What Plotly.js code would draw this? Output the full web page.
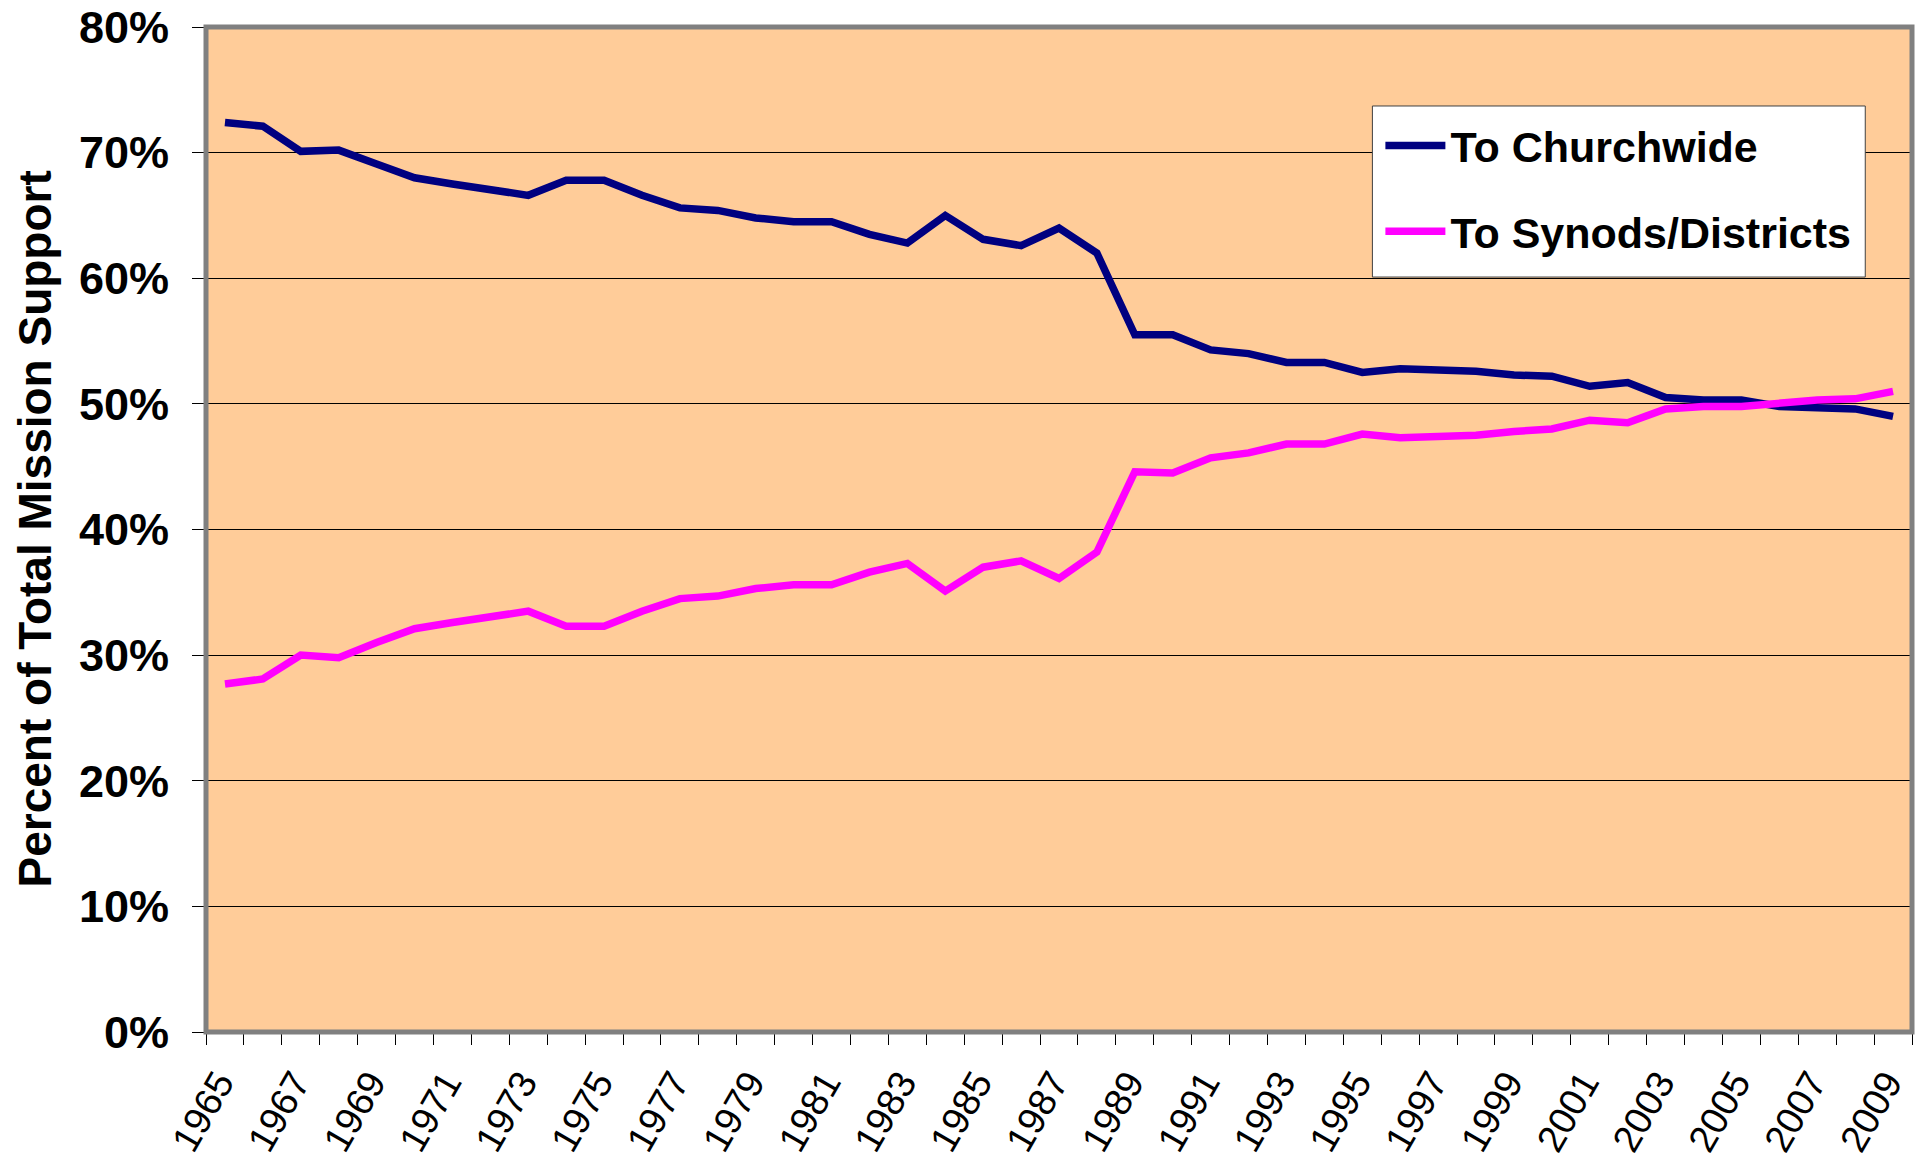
<!DOCTYPE html>
<html>
<head>
<meta charset="utf-8">
<script src="https://cdn.plot.ly/plotly-3.0.1.min.js"></script>
<style>
  html, body { margin: 0; padding: 0; background: #ffffff; }
  #chart { width: 1919px; height: 1167px; }
</style>
</head>
<body>
<div id="chart"></div>
<script>
// Years (categories)
var years = [1965, 1966, 1967, 1968, 1969, 1970, 1971, 1972, 1973, 1974,
             1975, 1976, 1977, 1978, 1979, 1980, 1981, 1982, 1983, 1984,
             1985, 1986, 1987, 1988, 1989, 1990, 1991, 1992, 1993, 1994,
             1995, 1996, 1997, 1998, 1999, 2000, 2001, 2002, 2003, 2004,
             2005, 2006, 2007, 2008, 2009];

// Percent of total mission support going to churchwide
var toChurchwide = [72.4, 72.1, 70.1, 70.2, 69.1, 68.0, 67.5, 67.0, 66.6, 67.8,
                    67.8, 66.6, 65.6, 65.4, 64.8, 64.5, 64.5, 63.5, 62.8, 65.0,
                    63.1, 62.6, 64.0, 62.0, 55.5, 55.5, 54.3, 54.0, 53.3, 53.3,
                    52.5, 52.8, 52.7, 52.6, 52.3, 52.2, 51.4, 51.7, 50.5, 50.3,
                    50.3, 49.8, 49.7, 49.6, 49.0];

// Percent of total mission support going to synods/districts
var toSynods = [27.7, 28.1, 30.0, 29.8, 31.0, 32.1, 32.6, 33.1, 33.5, 32.3,
                32.3, 33.5, 34.5, 34.7, 35.3, 35.6, 35.6, 36.6, 37.3, 35.1,
                37.0, 37.5, 36.1, 38.2, 44.6, 44.5, 45.7, 46.1, 46.8, 46.8,
                47.6, 47.3, 47.4, 47.5, 47.8, 48.0, 48.7, 48.5, 49.6, 49.8,
                49.8, 50.1, 50.3, 50.4, 51.0];

// Tick labels shown on the x axis (every other year)
var xTickYears = [1965, 1967, 1969, 1971, 1973, 1975, 1977, 1979, 1981, 1983,
                  1985, 1987, 1989, 1991, 1993, 1995, 1997, 1999, 2001, 2003,
                  2005, 2007, 2009];
var xTickLabels = ['1965', '1967', '1969', '1971', '1973', '1975', '1977', '1979',
                   '1981', '1983', '1985', '1987', '1989', '1991', '1993', '1995',
                   '1997', '1999', '2001', '2003', '2005', '2007', '2009'];

var seriesNames = ['To Churchwide', 'To Synods/Districts'];
var yTitle = 'Percent of Total Mission Support';

var FONT = 'Liberation Sans, Arial, Helvetica, sans-serif';

var traces = [
  {
    x: years, y: toChurchwide, name: seriesNames[0], type: 'scatter', mode: 'lines',
    line: { color: '#000080', width: 7.5 }, legendgroup: 'a', hoverinfo: 'x+y'
  },
  {
    x: years, y: toSynods, name: seriesNames[1], type: 'scatter', mode: 'lines',
    line: { color: '#FF00FF', width: 7.5 }, legendgroup: 'b', hoverinfo: 'x+y'
  }
];

var layout = {
  width: 1919,
  height: 1167,
  margin: { l: 206, r: 7, t: 27, b: 135, pad: 0 },
  paper_bgcolor: '#ffffff',
  plot_bgcolor: '#FFCC99',
  font: { family: FONT, color: '#000000' },
  showlegend: true,
  legend: {
    x: 0.6837, y: 0.9164, xanchor: 'left', yanchor: 'top',
    bgcolor: 'rgba(0,0,0,0)', borderwidth: 0,
    font: { family: FONT, size: 43, weight: 'bold', color: '#000000' },
    tracegroupgap: 27,
    traceorder: 'grouped',
    itemwidth: 60,
    indentation: 8
  },
  xaxis: {
    type: 'linear',
    range: [1964.5, 2009.5],
    tickmode: 'array',
    tickvals: xTickYears,
    ticktext: xTickLabels,
    ticks: '',
    tickangle: -60,
    tickfont: { family: FONT, size: 38, color: '#000000' },
    ticklabelstandoff: 20,
    ticklabelshift: -6,
    showgrid: false,
    zeroline: false,
    showline: false,
    fixedrange: true,
    minor: { ticks: 'outside', tick0: 1964.5, dtick: 1, ticklen: 12, tickwidth: 1, tickcolor: '#000000', showgrid: false }
  },
  yaxis: {
    range: [0, 80],
    tickmode: 'linear',
    tick0: 0,
    dtick: 10,
    ticksuffix: '%',
    ticks: 'outside',
    ticklen: 13,
    tickwidth: 1,
    tickcolor: '#000000',
    ticklabelstandoff: 14,
    tickfont: { family: FONT, size: 45, weight: 'bold', color: '#000000' },
    showgrid: true,
    gridcolor: '#000000',
    gridwidth: 1,
    zeroline: false,
    showline: false,
    fixedrange: true
  },
  shapes: [
    {
      type: 'rect', xref: 'paper', yref: 'paper', x0: 0, x1: 1, y0: 0, y1: 1,
      line: { color: '#808080', width: 5 }, fillcolor: 'rgba(0,0,0,0)', layer: 'above'
    },
    {
      type: 'rect', xref: 'paper', yref: 'paper', x0: 0.6837, x1: 0.9726, y0: 0.7512, y1: 0.9214,
      line: { color: '#404040', width: 1 }, fillcolor: '#ffffff', layer: 'above'
    }
  ],
  annotations: [
    {
      text: yTitle, xref: 'paper', yref: 'paper', x: 0, y: 0.5,
      xanchor: 'center', yanchor: 'middle', xshift: -172, textangle: -90,
      showarrow: false,
      font: { family: FONT, size: 46, weight: 'bold', color: '#000000' }
    }
  ]
};

Plotly.newPlot('chart', traces, layout, { displayModeBar: false, staticPlot: true });
</script>
</body>
</html>
